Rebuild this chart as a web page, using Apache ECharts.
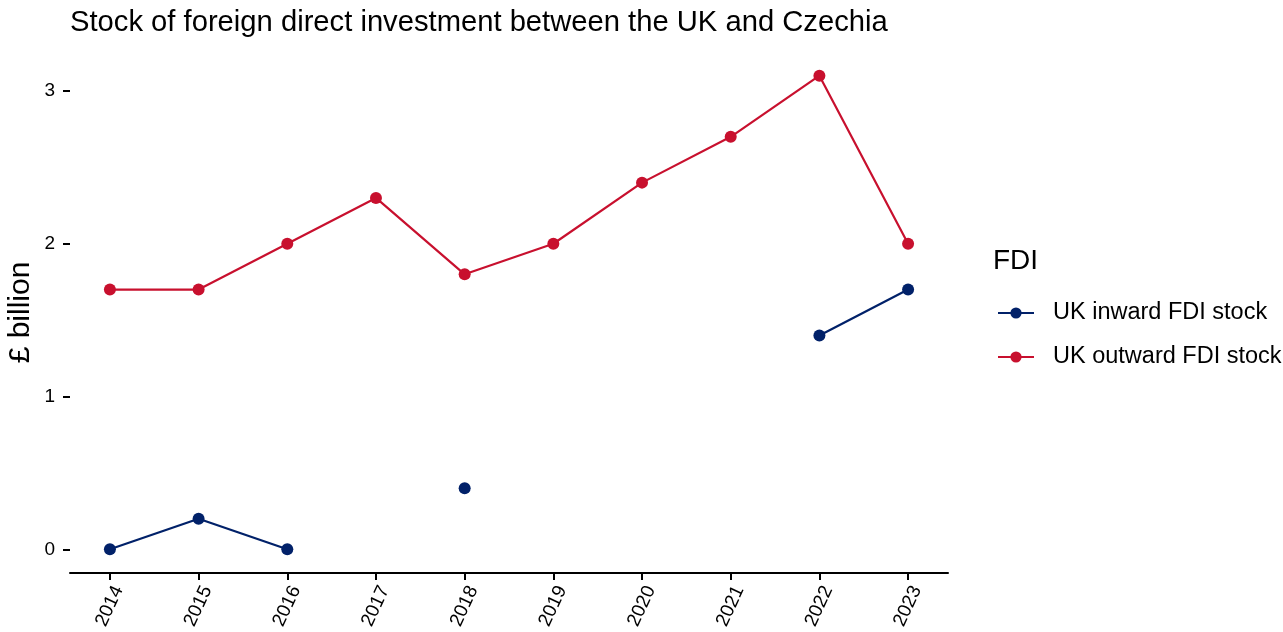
<!DOCTYPE html>
<html>
<head>
<meta charset="utf-8">
<script src="https://cdn.jsdelivr.net/npm/echarts@6/dist/echarts.min.js"></script>
<style>
  html, body { margin: 0; padding: 0; background: #fff; }
  #chart { width: 1283px; height: 632px; }
</style>
</head>
<body>
<div id="chart"></div>
<script>
var years = [2014, 2015, 2016, 2017, 2018, 2019, 2020, 2021, 2022, 2023];
var inward = [0, 0.2, 0, null, 0.4, null, null, null, 1.4, 1.7];
var outward = [1.7, 1.7, 2.0, 2.3, 1.8, 2.0, 2.4, 2.7, 3.1, 2.0];
var yTicks = [0, 1, 2, 3];

var font = 'Liberation Sans, Arial, sans-serif';

function pairs(vals) {
    return years.map(function (y, i) { return [y, vals[i] === null ? '-' : vals[i]]; });
}

var myChart = echarts.init(document.getElementById('chart'));
var option = {
    backgroundColor: '#fff',
    animation: false,
    textStyle: { fontFamily: font },
    title: [
        {
            text: 'Stock of foreign direct investment between the UK and Czechia',
            left: 65,
            top: 3,
            textStyle: { fontSize: 29.2, fontWeight: 'normal', color: '#000', fontFamily: font }
        },
        {
            text: 'FDI',
            left: 988,
            top: 242,
            textStyle: { fontSize: 28, fontWeight: 'normal', color: '#000', fontFamily: font }
        }
    ],
    legend: {
        orient: 'vertical',
        left: 992,
        top: 296,
        itemWidth: 36,
        itemHeight: 14,
        itemGap: 20,
        textStyle: { fontSize: 23.5, color: '#000', fontFamily: font, padding: [0, 0, 0, 14] },
        data: ['UK inward FDI stock', 'UK outward FDI stock']
    },
    grid: { left: 70, right: 335, top: 52, bottom: 59, outerBoundsMode: 'none' },
    xAxis: {
        type: 'value',
        min: 2013.55,
        max: 2023.45,
        splitLine: { show: false },
        axisLine: { show: true, onZero: false, lineStyle: { color: '#000', width: 2 } },
        axisTick: { show: true, length: 7, lineStyle: { color: '#000', width: 2 }, customValues: years },
        axisLabel: {
            rotate: 65,
            fontSize: 19,
            color: '#000',
            margin: 10,
            verticalAlign: 'top',
            customValues: years,
            formatter: function (v) { return String(v); }
        }
    },
    yAxis: {
        type: 'value',
        min: -0.155,
        max: 3.255,
        name: '£ billion',
        nameLocation: 'middle',
        nameGap: 34,
        nameMoveOverlap: false,
        nameRotate: 90,
        nameTextStyle: { fontSize: 30, color: '#000', fontFamily: font },
        splitLine: { show: false },
        axisLine: { show: false },
        axisTick: { show: true, length: 7, lineStyle: { color: '#000', width: 2 }, customValues: yTicks },
        axisLabel: { fontSize: 19, color: '#000', margin: 15, customValues: yTicks }
    },
    series: [
        {
            name: 'UK inward FDI stock',
            type: 'line',
            data: pairs(inward),
            connectNulls: false,
            symbol: 'circle',
            symbolSize: 12,
            color: '#012169',
            lineStyle: { width: 2.2 },
            z: 3
        },
        {
            name: 'UK outward FDI stock',
            type: 'line',
            data: pairs(outward),
            symbol: 'circle',
            symbolSize: 12,
            color: '#C8102E',
            lineStyle: { width: 2.2 },
            z: 2
        }
    ]
};
myChart.setOption(option);
</script>
</body>
</html>
